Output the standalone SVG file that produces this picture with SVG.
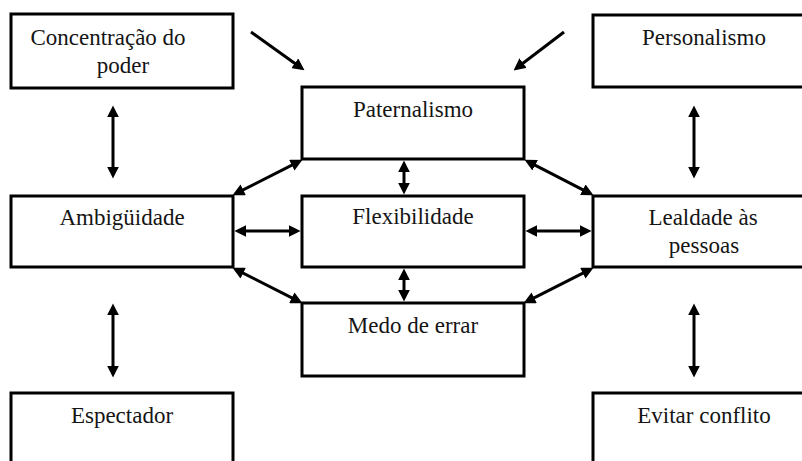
<svg xmlns="http://www.w3.org/2000/svg" width="802" height="461" viewBox="0 0 802 461">
<style>
.box{fill:#fff;stroke:#000;stroke-width:3}
.lbl{font-size:23px;fill:#151515;text-anchor:middle}
.arr{stroke:#000;stroke-width:3;fill:none;marker-end:url(#ah)}
.dbl{marker-start:url(#ah)}
</style>
<defs>
<marker id="ah" viewBox="0 0 10 10" refX="7" refY="5" markerWidth="12" markerHeight="12" markerUnits="userSpaceOnUse" orient="auto-start-reverse">
<path d="M0,0 L10,5 L0,10 z" fill="#000"/>
</marker>
</defs>
<rect width="802" height="461" fill="#fff"/>
<g font-family="'Liberation Serif', 'DejaVu Serif', 'Times New Roman', serif">
<g id="n-concentracao"><rect class="box" x="11" y="14" width="222" height="74"/><text class="lbl" x="108" y="45">Concentração do</text><text class="lbl" x="123" y="73">poder</text></g>
<g id="n-paternalismo"><rect class="box" x="302" y="87" width="222" height="72"/><text class="lbl" x="413" y="117">Paternalismo</text></g>
<g id="n-personalismo"><rect class="box" x="593" y="15" width="230" height="72"/><text class="lbl" x="704" y="45">Personalismo</text></g>
<g id="n-ambiguidade"><rect class="box" x="11" y="196" width="222" height="71"/><text class="lbl" x="122" y="225">Ambigüidade</text></g>
<g id="n-flexibilidade"><rect class="box" x="302" y="196" width="222" height="71"/><text class="lbl" x="413" y="224">Flexibilidade</text></g>
<g id="n-lealdade"><rect class="box" x="593" y="196" width="230" height="71"/><text class="lbl" x="703" y="225">Lealdade às</text><text class="lbl" x="704" y="253">pessoas</text></g>
<g id="n-medo"><rect class="box" x="302" y="303" width="222" height="73"/><text class="lbl" x="413" y="333">Medo de errar</text></g>
<g id="n-espectador"><rect class="box" x="11" y="393" width="222" height="80"/><text class="lbl" x="122" y="423">Espectador</text></g>
<g id="n-evitar"><rect class="box" x="593" y="393" width="230" height="80"/><text class="lbl" x="704" y="423">Evitar conflito</text></g>
</g>
<g id="connectors">
<line class="arr" x1="251" y1="32" x2="301.6" y2="68.2"/>
<line class="arr" x1="564" y1="32" x2="516.4" y2="68.2"/>
<line class="arr dbl" x1="113" y1="109" x2="113" y2="175"/>
<line class="arr dbl" x1="113" y1="307" x2="113" y2="374"/>
<line class="arr dbl" x1="694" y1="109" x2="694" y2="175"/>
<line class="arr dbl" x1="694" y1="307" x2="694" y2="374"/>
<line class="arr dbl" x1="404" y1="164" x2="404" y2="191"/>
<line class="arr dbl" x1="404" y1="272" x2="404" y2="298"/>
<line class="arr dbl" x1="238" y1="231" x2="297" y2="231"/>
<line class="arr dbl" x1="529" y1="231" x2="588" y2="231"/>
<line class="arr dbl" x1="299.3" y1="161.4" x2="235.7" y2="193.6"/>
<line class="arr dbl" x1="527.7" y1="161.4" x2="590.3" y2="193.6"/>
<line class="arr dbl" x1="235.7" y1="269.4" x2="299.3" y2="301.6"/>
<line class="arr dbl" x1="590.3" y1="269.4" x2="526.7" y2="301.6"/>
</g>
</svg>
